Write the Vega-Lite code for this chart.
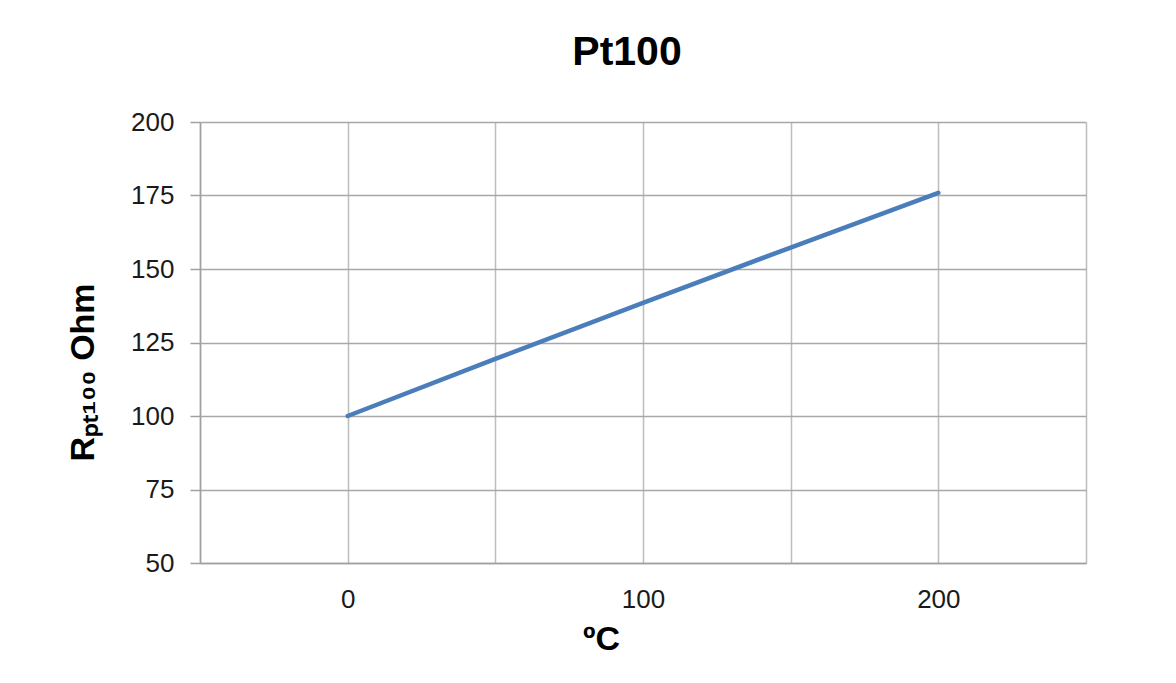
{
  "$schema": "https://vega.github.io/schema/vega-lite/v6.json",
  "autosize": {"type": "none"},
  "width": 886,
  "height": 441,
  "padding": {"left": 200, "top": 122, "right": 90, "bottom": 120},
  "background": "white",
  "title": {
    "text": "Pt100",
    "font": "Liberation Sans",
    "fontSize": 41,
    "fontWeight": "bold",
    "color": "#000000",
    "anchor": "middle",
    "frame": "group",
    "dx": -16,
    "offset": 35
  },
  "data": {
    "values": [
      {"t": 0, "r": 100.0},
      {"t": 50, "r": 119.4},
      {"t": 100, "r": 138.5},
      {"t": 150, "r": 157.3},
      {"t": 200, "r": 175.9}
    ]
  },
  "mark": {"type": "line", "color": "#4a7ebb", "strokeWidth": 4.5, "strokeCap": "round", "clip": false},
  "encoding": {
    "x": {
      "field": "t",
      "type": "quantitative",
      "scale": {"domain": [-50, 250], "nice": false, "zero": false},
      "axis": {
        "values": [-50, 0, 50, 100, 150, 200, 250],
        "labelExpr": "datum.value % 100 === 0 ? datum.label : ''",
        "ticks": false,
        "grid": true,
        "gridColor": "#bdbdbd",
        "gridWidth": 1.5,
        "domainColor": "#a0a0a0",
        "domainWidth": 1.5,
        "labelFont": "Liberation Sans",
        "labelFontSize": 26,
        "labelColor": "#1a1a1a",
        "labelPadding": 23,
        "labelFlush": false,
        "title": "ºC",
        "titleFont": "Liberation Sans",
        "titleFontSize": 34,
        "titleFontWeight": "bold",
        "titleColor": "#000000",
        "titleX": 401,
        "titleY": 86,
        "titleBaseline": "alphabetic",
        "titleAnchor": "middle"
      }
    },
    "y": {
      "field": "r",
      "type": "quantitative",
      "scale": {"domain": [50, 200], "nice": false, "zero": false},
      "axis": {
        "values": [50, 75, 100, 125, 150, 175, 200],
        "ticks": true,
        "tickSize": 10,
        "tickColor": "#a0a0a0",
        "tickWidth": 1.5,
        "grid": true,
        "gridColor": "#a8a8a8",
        "gridWidth": 1.5,
        "domainColor": "#a0a0a0",
        "domainWidth": 1.5,
        "labelFont": "Liberation Sans",
        "labelFontSize": 26,
        "labelColor": "#1a1a1a",
        "labelPadding": 16,
        "labelFlush": false,
        "title": "Rₚₜ₁₀₀ Ohm",
        "titleFont": "Liberation Sans",
        "titleFontSize": 34,
        "titleFontWeight": "bold",
        "titleColor": "#000000",
        "titleAngle": -90,
        "titleX": -107,
        "titleY": 250,
        "titleBaseline": "alphabetic",
        "titleAnchor": "middle"
      }
    }
  },
  "config": {
    "view": {"stroke": null}
  }
}
